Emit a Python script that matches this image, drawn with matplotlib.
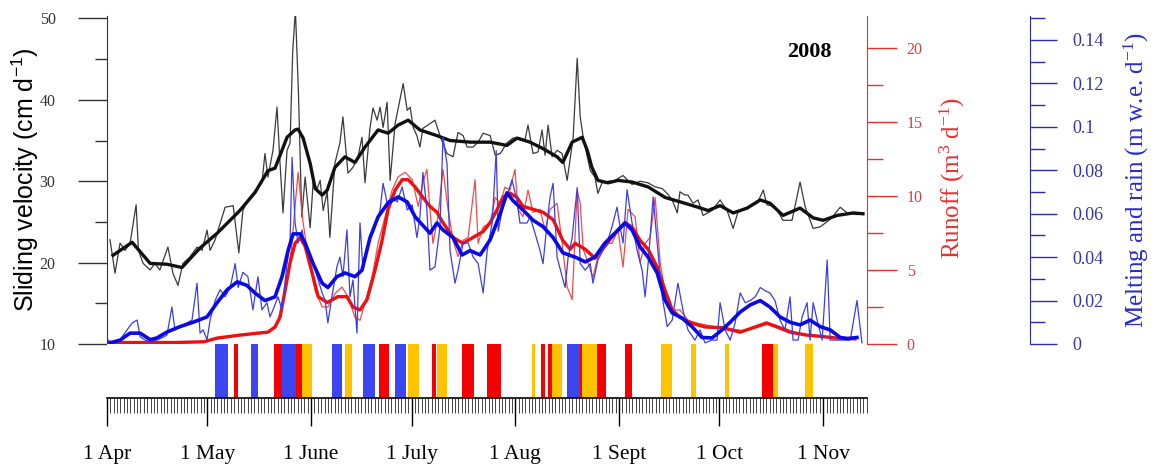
import matplotlib
matplotlib.use('Agg')
import matplotlib.pyplot as plt
from matplotlib.ticker import MultipleLocator, FuncFormatter

# ---------------- data (day 0 = 1 April 2008) ----------------
# sliding velocity, daily (thin) and smoothed (thick), cm/d
vel_day = [0.9, 2.4, 3.9, 5.4, 6.9, 8.7, 9.4, 10.8, 12.9, 14.3,
           15.8, 18.2, 19.7, 21.2, 22.7, 24.8, 26.9, 28.4, 29.9, 30.8,
           32.3, 33.8, 35.3, 37.7, 39.4, 40.6, 42.1, 43.6, 46.3, 47.2,
           48.1, 49.6, 50.8, 51.7, 52.6, 53.8, 54.7, 55.5, 56.3, 57.2,
           58.2, 59.2, 60.7, 61.6, 62.8, 63.7, 64.6, 65.8, 66.6, 68.1,
           69.6, 70.5, 72.0, 73.5, 75.0, 76.2, 77.1, 78.6, 79.5, 80.7,
           81.6, 82.5, 83.7, 84.6, 86.1, 88.5, 89.7, 90.6, 91.5, 92.6,
           93.5, 94.4, 95.9, 98.0, 99.5, 101.6, 103.4, 104.9, 106.4, 107.6,
           109.4, 110.9, 112.4, 114.5, 116.0, 117.5, 119.5, 121.3, 123.4, 124.9,
           125.8, 127.3, 128.8, 130.0, 130.9, 131.8, 133.0, 134.5, 136.0, 137.5,
           139.3, 140.5, 141.4, 142.3, 144.4, 145.8, 146.7, 147.9, 149.7, 151.8,
           154.2, 156.9, 159.3, 161.7, 163.8, 165.9, 167.4, 168.9, 170.4, 171.2,
           172.7, 173.6, 175.1, 176.6, 178.1, 180.8, 183.2, 185.3, 187.1, 188.6,
           191.3, 194.3, 196.1, 197.2, 199.6, 202.0, 204.7, 207.1, 208.6, 211.0,
           213.1, 216.1, 219.1, 221.2, 224.1, 225.9]
vel = [22.8, 18.7, 22.4, 21.5, 22.4, 27.1, 21.5, 19.9, 19.1, 19.9,
       19.1, 21.9, 18.7, 17.2, 19.9, 20.7, 21.9, 21.5, 24.0, 21.5,
       22.8, 24.8, 26.8, 27.0, 21.2, 26.4, 27.7, 28.5, 29.8, 33.4,
       30.5, 33.8, 39.1, 32.2, 26.1, 33.8, 34.7, 46.0, 51.0, 41.0,
       25.6, 30.5, 24.3, 29.8, 29.1, 30.1, 26.4, 28.7, 23.1, 32.2,
       34.7, 37.9, 31.0, 31.7, 33.0, 35.4, 29.8, 36.6, 39.0, 37.5,
       39.1, 36.6, 39.7, 30.1, 37.1, 42.0, 38.7, 39.1, 36.6, 35.6,
       34.2, 36.5, 36.9, 37.5, 35.6, 33.4, 33.0, 36.0, 35.6, 34.2,
       34.2, 34.8, 35.9, 35.6, 33.2, 33.4, 34.7, 35.3, 35.3, 35.1,
       36.9, 33.4, 33.6, 36.3, 33.2, 36.9, 33.0, 33.8, 33.4, 30.1,
       35.4, 45.1, 37.9, 35.4, 31.3, 30.5, 28.5, 29.8, 30.0, 30.1,
       30.7, 29.6, 30.0, 29.8, 29.3, 29.1, 28.5, 27.7, 26.1, 28.7,
       28.3, 28.3, 27.3, 27.7, 25.8, 26.4, 27.7, 26.4, 24.2, 26.3,
       26.8, 27.3, 28.9, 27.1, 26.9, 25.2, 25.2, 29.9, 26.9, 24.2,
       24.4, 25.3, 26.8, 26.1, 25.9, 26.1]

vel_s_day = [1.8, 7.5, 12.9, 17.9, 22.4, 27.8, 32.9, 39.7, 44.2, 48.1,
             50.2, 53.8, 56.2, 57.1, 58.6, 60.7, 62.2, 64.3, 65.8, 68.1,
             71.1, 74.1, 77.1, 81.0, 84.0, 87.0, 90.0, 93.5, 98.6, 102.5,
             108.5, 114.5, 119.5, 122.5, 126.4, 130.3, 134.5, 136.2, 139.0, 142.0,
             143.5, 144.9, 146.7, 149.7, 152.7, 156.9, 161.7, 166.8, 171.8, 176.6,
             179.6, 183.2, 187.1, 191.3, 195.2, 198.1, 202.0, 207.1, 211.0, 214.0,
             218.2, 223.0, 225.9]
vel_s = [20.9, 22.5, 19.9, 19.8, 19.4, 21.8, 23.6, 26.4, 28.6, 31.3,
         31.6, 35.4, 36.3, 36.4, 35.3, 32.2, 29.1, 28.3, 28.9, 31.7,
         33.0, 32.3, 34.2, 36.3, 35.9, 36.9, 37.5, 36.3, 35.6, 35.0,
         34.8, 34.8, 34.4, 35.3, 34.8, 34.0, 33.0, 32.3, 34.8, 35.4,
         33.8, 31.7, 30.1, 29.8, 30.1, 29.9, 29.3, 28.0, 27.4, 26.8,
         26.4, 27.0, 26.1, 26.7, 27.7, 27.3, 25.8, 26.7, 25.5, 25.2,
         25.8, 26.1, 26.0]

# runoff, m3/d
run_day = [0.9, 12.0, 25.0, 32.0, 40.0, 46.0, 49.0, 51.0, 52.5, 54.0,
           55.3, 56.2, 57.1, 58.6, 60.1, 62.2, 64.3, 66.0, 68.1, 70.2,
           72.0, 74.1, 75.6, 77.1, 79.2, 81.0, 83.1, 85.2, 87.0, 89.1,
           91.2, 93.0, 94.4, 95.6, 96.5, 97.4, 98.9, 100.4, 101.9, 103.4,
           104.9, 106.4, 107.9, 110.0, 110.9, 112.4, 114.5, 116.0, 117.5, 118.9,
           120.4, 121.9, 122.8, 124.3, 125.8, 127.3, 129.4, 130.9, 132.4, 134.5,
           136.0, 137.5, 139.0, 140.5, 141.4, 142.3, 143.7, 145.2, 146.7, 148.8,
           150.9, 152.7, 154.2, 155.7, 157.8, 159.3, 160.8, 162.3, 163.8, 165.3,
           166.8, 168.9, 171.2, 173.6, 176.6, 180.8, 184.7, 190.0, 197.0, 202.0,
           208.0, 214.0, 219.0, 222.0]
run = [0.05, 0.1, 0.1, 0.3, 0.6, 0.7, 0.9, 1.5, 2.8, 4.5,
       6.8, 9.3, 11.6, 8.2, 5.9, 3.6, 2.5, 2.5, 3.4, 3.85,
       3.2, 1.8, 1.6, 2.8, 4.5, 6.8, 8.6, 10.4, 11.3, 11.6,
       11.1, 9.3, 10.9, 11.8, 9.1, 6.8, 8.6, 11.8, 9.1, 7.0,
       5.9, 7.0, 7.2, 11.1, 6.8, 7.9, 8.2, 9.9, 9.5, 10.6,
       10.4, 11.8, 9.1, 8.6, 10.4, 8.9, 9.1, 7.7, 9.1, 9.5,
       6.8, 3.85, 3.0, 10.4, 9.5, 6.4, 5.5, 4.5, 5.9, 6.8,
       6.8, 7.7, 5.2, 9.1, 8.6, 5.5, 6.8, 7.2, 9.9, 5.5,
       3.4, 2.3, 2.3, 1.6, 1.4, 1.2, 1.1, 0.9, 1.5, 1.1,
       0.6, 0.5, 0.4, 0.4]

run_s_day = [0.9, 10.0, 20.0, 29.0, 32.9, 39.7, 45.7, 48.1, 50.2, 51.7,
             53.2, 54.7, 56.2, 57.7, 59.2, 61.3, 63.1, 65.8, 69.0, 71.7,
             73.5, 75.6, 77.7, 80.1, 82.2, 84.0, 86.1, 88.2, 90.0, 92.1,
             94.4, 96.5, 98.6, 100.4, 103.4, 106.4, 109.4, 112.4, 114.5, 116.6,
             118.3, 120.4, 122.5, 124.3, 127.3, 130.3, 133.3, 136.2, 138.4, 139.9,
             142.9, 145.8, 148.8, 151.8, 154.8, 156.9, 159.3, 161.7, 164.4, 166.8,
             168.9, 171.2, 174.8, 178.7, 183.8, 189.2, 193.1, 197.2, 200.2, 204.1,
             209.2, 214.0, 218.2, 223.5]
run_s = [0.1, 0.1, 0.1, 0.15, 0.4, 0.6, 0.75, 0.8, 1.15, 1.8,
         3.6, 5.5, 6.8, 7.2, 6.6, 4.8, 3.2, 2.8, 3.2, 3.2,
         2.5, 2.3, 3.0, 5.0, 7.0, 9.1, 10.4, 11.1, 11.1, 10.6,
         9.9, 9.3, 8.9, 8.2, 7.2, 6.8, 7.2, 7.6, 8.2, 9.1,
         9.9, 10.2, 9.9, 9.3, 9.1, 8.9, 8.4, 7.0, 6.4, 6.8,
         6.4, 5.8, 6.6, 7.5, 8.2, 7.9, 7.0, 6.4, 5.2, 3.6,
         2.3, 1.8, 1.4, 1.15, 1.1, 0.8, 1.1, 1.4, 1.15, 0.8,
         0.6, 0.5, 0.4, 0.35]

# melting and rain, m w.e./d
melt_day = [0.3, 1.8, 3.9, 6.0, 7.5, 9.0, 9.9, 11.4, 12.9, 15.2,
            17.9, 19.4, 20.3, 21.8, 23.9, 25.4, 26.9, 27.8, 28.7, 29.9,
            30.8, 32.3, 33.8, 35.3, 36.8, 38.3, 39.2, 40.6, 42.1, 43.6,
            45.1, 46.3, 47.8, 48.7, 49.6, 51.1, 52.3, 53.8, 54.7, 55.3,
            56.2, 57.1, 58.3, 59.2, 60.1, 61.3, 62.8, 64.3, 65.2, 66.0,
            67.2, 68.7, 69.6, 70.5, 71.7, 72.6, 73.5, 74.7, 75.6, 76.5,
            78.0, 79.5, 81.6, 82.5, 83.7, 85.2, 86.7, 88.2, 89.7, 91.2,
            92.6, 93.5, 94.4, 95.6, 96.5, 98.0, 99.5, 100.4, 101.6, 102.5,
            104.0, 104.9, 106.4, 107.9, 109.4, 110.9, 112.4, 113.6, 115.1, 116.3,
            116.9, 118.1, 119.5, 121.0, 122.5, 123.4, 125.5, 126.4, 127.9, 129.4,
            130.3, 131.5, 132.4, 133.3, 134.5, 136.0, 136.9, 137.8, 139.0, 140.5,
            141.4, 142.9, 144.4, 145.2, 146.7, 148.2, 149.4, 150.9, 152.4, 153.3,
            154.2, 155.4, 156.9, 158.4, 159.9, 160.8, 161.7, 163.2, 164.4, 165.9,
            167.4, 168.9, 170.6, 172.1, 173.6, 175.7, 177.2, 178.7, 180.8, 182.3,
            183.2, 184.7, 186.2, 187.7, 189.2, 190.7, 192.2, 193.7, 195.2, 196.7,
            198.1, 199.6, 201.1, 202.6, 204.1, 205.0, 206.5, 207.7, 209.2, 210.1,
            211.0, 212.2, 213.7, 215.2, 216.1, 219.1, 222.1, 224.1, 225.6]
melt = [0.0018, 0.0005, 0.002, 0.0065, 0.0097, 0.011, 0.0033, 0.0018, 0.001, 0.002,
        0.004, 0.017, 0.0065, 0.008, 0.0097, 0.011, 0.028, 0.005, 0.0065, 0.002,
        0.011, 0.020, 0.025, 0.0217, 0.026, 0.037, 0.026, 0.033, 0.031, 0.0157,
        0.031, 0.0157, 0.019, 0.0125, 0.0157, 0.0217, 0.0157, 0.037, 0.0465, 0.086,
        0.0557, 0.0465, 0.0525, 0.045, 0.043, 0.0387, 0.031, 0.0235, 0.020, 0.0097,
        0.0217, 0.0355, 0.040, 0.031, 0.0525, 0.0217, 0.0295, 0.005, 0.0557, 0.034,
        0.0465, 0.051, 0.0617, 0.074, 0.065, 0.0677, 0.0654, 0.0723, 0.0617, 0.064,
        0.049, 0.0585, 0.079, 0.0617, 0.034, 0.0355, 0.054, 0.095, 0.083, 0.043,
        0.028, 0.034, 0.0465, 0.0465, 0.040, 0.037, 0.0235, 0.043, 0.0557, 0.089,
        0.052, 0.0617, 0.0677, 0.0756, 0.066, 0.0557, 0.0557, 0.0585, 0.051, 0.043,
        0.037, 0.0557, 0.0677, 0.074, 0.040, 0.031, 0.026, 0.040, 0.049, 0.072,
        0.037, 0.034, 0.037, 0.028, 0.0387, 0.043, 0.0465, 0.054, 0.063, 0.054,
        0.0465, 0.071, 0.0557, 0.043, 0.034, 0.0217, 0.037, 0.0677, 0.0465, 0.0217,
        0.008, 0.011, 0.028, 0.0157, 0.0065, 0.0018, 0.0065, 0.0005, 0.0018, 0.0018,
        0.019, 0.0065, 0.0018, 0.0097, 0.0235, 0.019, 0.020, 0.0217, 0.026, 0.0245,
        0.0235, 0.020, 0.011, 0.0065, 0.0217, 0.0018, 0.0018, 0.0125, 0.019, 0.0018,
        0.019, 0.011, 0.0018, 0.0387, 0.0018, 0.0018, 0.0018, 0.020, 0.0005]

melt_s_day = [0.9, 3.9, 6.9, 9.9, 12.9, 14.9, 17.9, 21.8, 25.7, 29.9,
              32.9, 35.9, 38.9, 41.8, 44.2, 47.2, 50.2, 52.3, 54.1, 55.6,
              57.7, 59.2, 61.6, 64.3, 66.0, 68.7, 71.1, 74.1, 76.2, 78.6,
              81.0, 84.0, 87.0, 89.7, 92.1, 96.5, 98.6, 100.4, 103.4, 106.1,
              108.5, 111.5, 114.5, 117.5, 119.5, 121.3, 124.3, 127.3, 130.3, 133.3,
              136.2, 139.9, 142.9, 145.8, 148.8, 151.8, 154.8, 156.9, 159.3, 161.7,
              164.4, 166.8, 168.9, 171.8, 174.8, 177.8, 180.8, 183.8, 186.2, 189.2,
              192.2, 195.2, 198.1, 201.1, 204.1, 207.1, 210.1, 213.1, 216.1, 219.1,
              221.2, 224.1]
melt_s = [0.0005, 0.0018, 0.005, 0.005, 0.002, 0.0028, 0.0055, 0.008, 0.010, 0.0125,
          0.019, 0.025, 0.0286, 0.027, 0.0235, 0.020, 0.0217, 0.031, 0.043, 0.0507,
          0.0507, 0.0465, 0.037, 0.028, 0.026, 0.031, 0.0327, 0.031, 0.034, 0.049,
          0.0585, 0.065, 0.0677, 0.0654, 0.0585, 0.051, 0.0557, 0.0525, 0.049, 0.041,
          0.043, 0.041, 0.048, 0.060, 0.0696, 0.066, 0.0617, 0.057, 0.054, 0.049,
          0.042, 0.040, 0.0378, 0.040, 0.0465, 0.051, 0.0557, 0.0525, 0.0447, 0.040,
          0.0327, 0.020, 0.0143, 0.012, 0.008, 0.003, 0.0028, 0.0065, 0.010, 0.0147,
          0.018, 0.020, 0.017, 0.0125, 0.010, 0.0088, 0.011, 0.008, 0.0065, 0.003,
          0.0025, 0.003]

# coloured event bars below the curves
bar_start = [32.3, 38.0, 43.0, 49.9, 52.3, 56.5, 58.3, 67.2, 71.1, 76.5,
             81.3, 86.1, 90.0, 97.1, 98.6, 106.1, 113.6, 127.0, 129.7, 131.8,
             133.0, 137.5, 141.4, 142.0, 146.4, 154.8, 165.6, 174.5, 184.7, 195.8,
             199.0, 208.6]
bar_end = [36.2, 39.2, 45.1, 52.3, 56.5, 58.3, 61.3, 70.2, 73.2, 80.1,
           84.3, 89.4, 93.2, 98.3, 101.6, 109.7, 117.8, 127.9, 130.9, 133.0,
           136.0, 141.4, 142.0, 146.4, 149.1, 156.9, 168.9, 176.0, 185.9, 199.0,
           200.5, 211.0]
bar_kind = ['b', 'r', 'b', 'r', 'b', 'r', 'y', 'b', 'y', 'b',
            'r', 'b', 'y', 'r', 'y', 'r', 'r', 'y', 'r', 'r',
            'y', 'b', 'r', 'y', 'r', 'r', 'y', 'y', 'y', 'r',
            'y', 'y']

month_day = [0, 30, 61, 91, 122, 153, 183, 214]
month_lab = ['1 Apr', '1 May', '1 June', '1 July', '1 Aug', '1 Sept', '1 Oct', '1 Nov']

# ---------------- style ----------------
plt.rcParams['font.family'] = ['Liberation Serif', 'DejaVu Serif']
RED = '#e8312f'
BLUE = '#2a2ab8'
kind_col = {'b': '#3c46f0', 'r': '#f50000', 'y': '#ffc300'}

W, H = 1156, 472
def box(x0, y0, x1, y1):
    return [x0 / W, 1 - y1 / H, (x1 - x0) / W, (y1 - y0) / H]

fig = plt.figure(figsize=(W / 100, H / 100), dpi=100)
ax = fig.add_axes(box(107, 16, 867, 344))
axr = ax.twinx()
axb = ax.twinx()
axbar = fig.add_axes(box(107, 344, 867, 398))

XMAX = 227.1
ax.set_xlim(0, XMAX)
ax.set_ylim(10, 50.3)
axr.set_ylim(0, 22.16)
axb.set_ylim(0, 0.151)

# curves
ax.plot(vel_day, vel, color='#3a3a3a', lw=0.9)
ax.plot(vel_s_day, vel_s, color='#111111', lw=2.4)
axr.plot(run_day, run, color='#f04a4a', lw=0.9)
axr.plot(run_s_day, run_s, color='#ee1010', lw=2.4)
axb.plot(melt_day, melt, color='#3c3ce8', lw=0.9)
axb.plot(melt_s_day, melt_s, color='#0a0ae6', lw=2.6)

# left axis
for s in ['top', 'right', 'bottom']:
    ax.spines[s].set_visible(False)
ax.spines['left'].set_color('#333333')
ax.set_xticks([])
ax.yaxis.set_major_locator(MultipleLocator(10))
ax.yaxis.set_minor_locator(MultipleLocator(5))
ax.tick_params(axis='y', which='major', length=21, width=1, pad=16,
               labelsize=11.5, colors='#333333')
ax.tick_params(axis='y', which='minor', length=8.6, width=1, colors='#333333')
ax.set_ylabel('Sliding velocity (cm d$\\mathregular{^{-1}}$)',
              fontfamily='Liberation Sans', fontsize=18, va='center', ha='center')
ax.yaxis.set_label_coords(-0.108, 0.5)
ax.text(0.924, 0.89, '2008', transform=ax.transAxes, fontsize=16,
        fontweight='bold', ha='center', va='center')

# runoff axis
for s in ['top', 'left', 'bottom']:
    axr.spines[s].set_visible(False)
axr.spines['right'].set_color(RED)
axr.yaxis.set_major_locator(MultipleLocator(5))
axr.yaxis.set_minor_locator(MultipleLocator(2.5))
axr.tick_params(axis='y', which='major', length=21.6, width=1, pad=7,
                labelsize=11.5, color=RED, labelcolor='#d84040')
axr.tick_params(axis='y', which='minor', length=11.5, width=1, color=RED)
axr.set_ylabel('Runoff (m$\\mathregular{^3}$ d$\\mathregular{^{-1}}$)', color=RED,
               fontsize=18, va='center', ha='center', rotation=90)
axr.yaxis.set_label_coords(1.112, 0.506)

# melting axis
for s in ['top', 'left', 'bottom']:
    axb.spines[s].set_visible(False)
axb.spines['right'].set_position(('axes', (1030 - 107) / 760))
axb.spines['right'].set_color(BLUE)
axb.yaxis.set_major_locator(MultipleLocator(0.02))
axb.yaxis.set_minor_locator(MultipleLocator(0.01))
axb.yaxis.set_major_formatter(FuncFormatter(lambda v, p: f'{v:g}'))
axb.tick_params(axis='y', which='major', length=19.4, width=1, pad=11,
                labelsize=13, color=BLUE, labelcolor='#3434a8')
axb.tick_params(axis='y', which='minor', length=10.8, width=1, color=BLUE)
axb.set_ylabel('Melting and rain (m w.e. d$\\mathregular{^{-1}}$)', color='#2a2ad0',
               fontsize=18, va='center', ha='center', rotation=90)
axb.yaxis.set_label_coords(1.355, 0.5)

# event bars + date axis
bar_width = [e - s for s, e in zip(bar_start, bar_end)]
axbar.bar(bar_start, 1, width=bar_width, bottom=0, align='edge',
          color=[kind_col[k] for k in bar_kind], linewidth=0)
axbar.set_xlim(0, XMAX)
axbar.set_ylim(0, 1)
for s in ['top', 'left', 'right']:
    axbar.spines[s].set_visible(False)
axbar.spines['bottom'].set_linewidth(1.2)
axbar.set_yticks([])
axbar.set_xticks(month_day)
axbar.set_xticklabels(month_lab)
axbar.set_xticks(range(0, 228), minor=True)
axbar.tick_params(axis='x', which='major', length=20, width=1, pad=14, labelsize=15.5)
axbar.tick_params(axis='x', which='minor', length=10.8, width=0.7, color='#444444')

fig.savefig('out.png', dpi=100)
